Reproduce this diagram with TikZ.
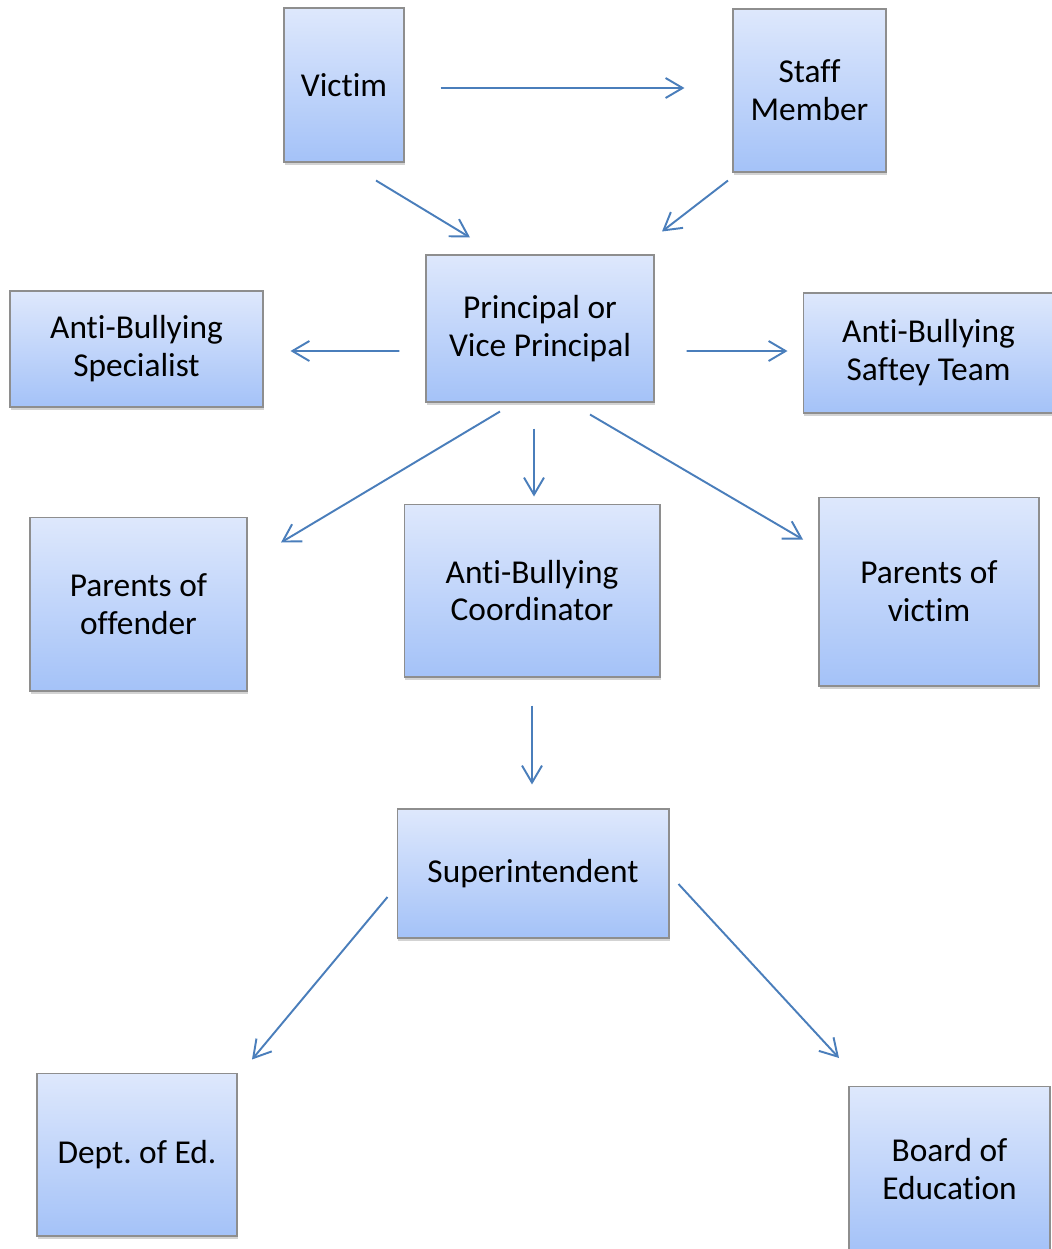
\documentclass[tikz,border=0pt]{standalone}
\usepackage{fontspec}
\setmainfont[Ligatures=CommonOff]{Carlito}
\usetikzlibrary{arrows.meta}
\usetikzlibrary{shadows}

\definecolor{arrowblue}{HTML}{4A7EBB}
\definecolor{boxtop}{HTML}{DEE8FC}
\definecolor{boxbottom}{HTML}{A4C2F8}
\definecolor{boxedge}{HTML}{8E8E8E}

\frenchspacing

\begin{document}
\begin{tikzpicture}[x=0.02cm, y=-0.02cm,
        box/.style={draw=boxedge, line width=0.6pt, top color=boxtop, bottom color=boxbottom,
            drop shadow={shadow xshift=0.6pt, shadow yshift=-1.6pt, opacity=0.35},
            align=center, inner sep=0pt, font=\fontsize{19}{21.6}\selectfont},
        arr/.style={draw=arrowblue, line width=1.1pt, -{Straight Barb[length=3.4mm, width=4mm]}}]
        \useasboundingbox (0,0) rectangle (1052,1249);

        % Top row
        \node[box, minimum width=2.4cm, minimum height=3.08cm] (victim) at (344,85) {Victim};
        \node[box, minimum width=3.06cm, minimum height=3.26cm] (staff) at (809.5,90.5) {Staff\\Member};

        % Principal and its side boxes
        \node[box, minimum width=4.56cm, minimum height=2.94cm] (principal) at (540,328.5) {Principal or\\Vice Principal};
        \node[box, minimum width=5.06cm, minimum height=2.32cm] (specialist) at (136.5,349) {Anti-Bullying\\Specialist};
        \node[box, minimum width=5.02cm, minimum height=2.4cm] (team) at (928.5,353) {Anti-Bullying\\Saftey Team};

        % Third row
        \node[box, minimum width=4.34cm, minimum height=3.48cm] (offender) at (138.5,604) {Parents of\\offender};
        \node[box, minimum width=5.12cm, minimum height=3.46cm] (coord) at (532,590.5) {Anti-Bullying\\Coordinator};
        \node[box, minimum width=4.4cm, minimum height=3.78cm] (pvictim) at (929,591.5) {Parents of\\victim};

        % Superintendent and below
        \node[box, minimum width=5.44cm, minimum height=2.58cm] (super) at (533,873.5) {Superintendent};
        \node[box, minimum width=4.0cm, minimum height=3.26cm] (dept) at (137,1154.5) {Dept. of Ed.};
        \node[box, minimum width=4.02cm, minimum height=3.3cm] (board) at (949.5,1169) {Board of\\Education};

        % Arrows
        \draw[arr] ([shift={(36,3)}]victim.east) -- ([shift={(-48,-2.5)}]staff.west);
        \draw[arr] ([shift={(32,18)}]victim.south) -- ([shift={(-70,-17)}]principal.north);
        \draw[arr] ([shift={(-81.5,8)}]staff.south) -- ([shift={(122,-23)}]principal.north);
        \draw[arr] ([shift={(-26,22.5)}]principal.west) -- ([shift={(27,2)}]specialist.east);
        \draw[arr] ([shift={(32,22.5)}]principal.east) -- ([shift={(-15,-2)}]team.west);
        \draw[arr] ([shift={(-40,9)}]principal.south) -- ([shift={(142.5,26)}]offender.north);
        \draw[arr] ([shift={(-6,26)}]principal.south) -- ([shift={(2,-7)}]coord.north);
        \draw[arr] ([shift={(50,12)}]principal.south) -- ([shift={(-126,43)}]pvictim.north);
        \draw[arr] ([shift={(0,28)}]coord.south) -- ([shift={(-1,-24)}]super.north);
        \draw[arr] ([shift={(-9,23.5)}]super.west) -- ([shift={(115,-13)}]dept.north);
        \draw[arr] ([shift={(9,10.5)}]super.east) -- ([shift={(-110.5,-28)}]board.north);

\end{tikzpicture}
\end{document}
